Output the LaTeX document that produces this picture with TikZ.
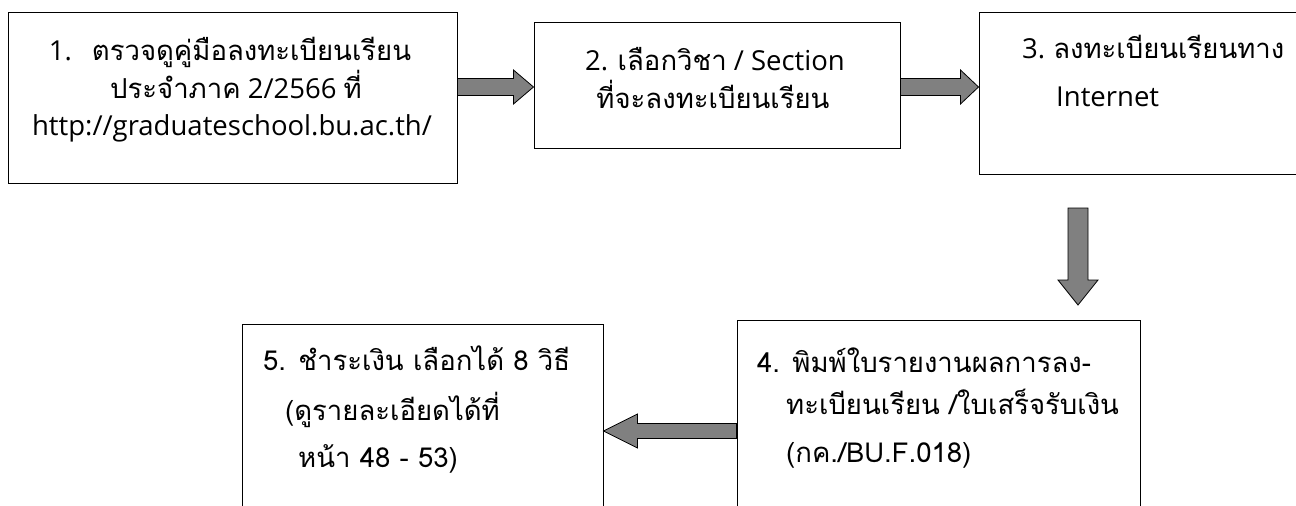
\documentclass[tikz,border=0pt]{standalone}
\usepackage{fontspec}
\setmainfont{Open Sans}
\newfontfamily\thai[Script=Thai]{Loma}
\usetikzlibrary{calc}
\definecolor{arrowgray}{RGB}{128,128,128}
\tikzset{
  stepbox/.style={draw, line width=1pt, inner sep=0pt},
  steptext/.style={inner sep=0pt, font=\fontsize{27.5}{31}\selectfont},
  fatarrow/.style n args={3}{draw=black, line width=0.8pt, fill=arrowgray,
    to path={
      ($(\tikztostart)!#1!90:(\tikztotarget)$)
      -- ($(\tikztotarget)!#3!(\tikztostart)!#1!-90:(\tikztostart)$)
      -- ($(\tikztotarget)!#3!(\tikztostart)!#2!-90:(\tikztostart)$)
      -- (\tikztotarget)
      -- ($(\tikztotarget)!#3!(\tikztostart)!#2!90:(\tikztostart)$)
      -- ($(\tikztotarget)!#3!(\tikztostart)!#1!90:(\tikztostart)$)
      -- ($(\tikztostart)!#1!-90:(\tikztotarget)$)
      -- cycle}},
}
\begin{document}
\begin{tikzpicture}[x=1pt, y=-1pt]
  \useasboundingbox (0,0) rectangle (1296,506);
  \fill[white] (0,0) rectangle (1296,506);
  \clip (0,0) rectangle (1296,506);
  % boxes
  \node[stepbox, minimum width=449pt, minimum height=171pt] (b1) at (232.5,97.5) {};
  \node[stepbox, minimum width=366pt, minimum height=126pt] (b2) at (717,85) {};
  \node[stepbox, minimum width=341pt, minimum height=162pt] (b3) at (1149.5,93) {};
  \node[stepbox, minimum width=403pt, minimum height=222pt] (b4) at (938.5,431) {};
  \node[stepbox, minimum width=361pt, minimum height=214pt] (b5) at (422.5,431) {};
  % texts
  \node[steptext, anchor=base] (t1a) at (230,60) {1.\hspace{20pt}{\thai ตรวจดูคู่มือลงทะเบียนเรียน}};
  \node[steptext, anchor=base] (t1b) at (236,98) {{\thai ประจำภาค} 2/2566 {\thai ที่}};
  \node[steptext, anchor=base] (t1c) at (232,135) {http://graduateschool.bu.ac.th/};
  \node[steptext, anchor=base] (t2a) at (715,70) {2. {\thai เลือกวิชา} / Section};
  \node[steptext, anchor=base] (t2b) at (713,108) {\thai ที่จะลงทะเบียนเรียน};
  \node[steptext, anchor=base west] (t3a) at (1022,58) {3.\hspace{8pt}{\thai ลงทะเบียนเรียนทาง}};
  \node[steptext, anchor=base west] (t3b) at (1056,106) {Internet};
  \node[steptext, anchor=base west] (t4a) at (757,372) {\thai 4. พิมพ์ใบรายงานผลการลง-};
  \node[steptext, anchor=base west] (t4b) at (786,414) {\thai ทะเบียนเรียน /ใบเสร็จรับเงิน};
  \node[steptext, anchor=base west] (t4c) at (786,462) {\thai (กค./BU.F.018)};
  \node[steptext, anchor=base west] (t5a) at (263,370) {\thai 5. ชำระเงิน เลือกได้ 8 วิธี};
  \node[steptext, anchor=base west] (t5b) at (285,420) {\thai (ดูรายละเอียดได้ที่};
  \node[steptext, anchor=base west] (t5c) at (298,467) {\thai หน้า 48 - 53)};
  % arrows
  \coordinate (d1) at (1078,208);
  \coordinate (d2) at (1078,305);
  \draw[fatarrow={8.5pt}{17pt}{20pt}] (b1.east |- 0,87) to (b2.west |- 0,87);
  \draw[fatarrow={8.5pt}{17pt}{18pt}] (b2.east |- 0,87) to (b3.west |- 0,87);
  \draw[fatarrow={10pt}{20pt}{25pt}] (d1) to (d2);
  \draw[fatarrow={7.5pt}{17pt}{34pt}] (b4.west) to (b5.east);
\end{tikzpicture}
\end{document}
